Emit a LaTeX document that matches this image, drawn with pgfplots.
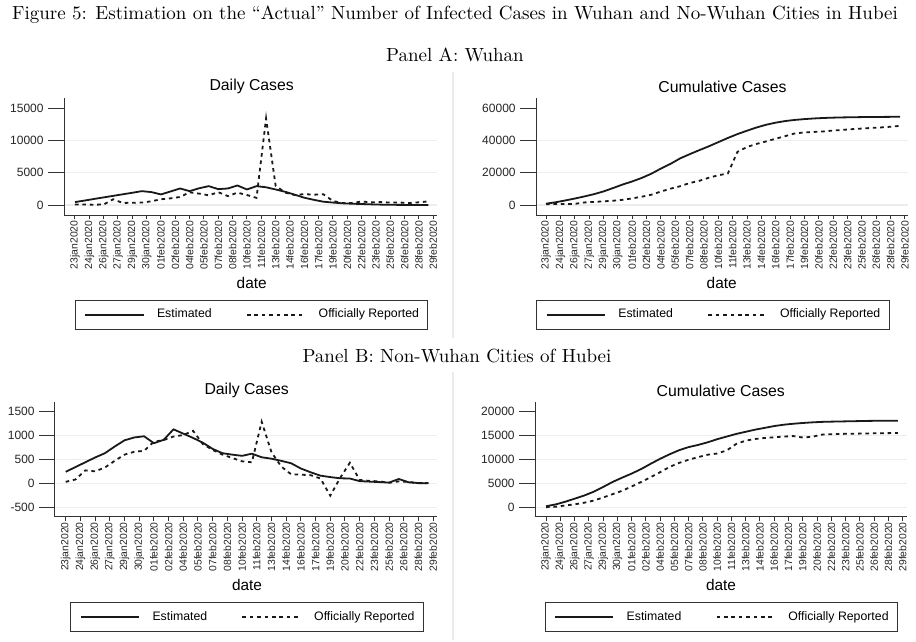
\documentclass[border=0pt]{standalone}
\usepackage{pgfplots}
\pgfplotsset{compat=1.18}
\usepackage{pgfplotstable}
\usepackage{fontspec}
\newfontfamily\arial{Liberation Sans}

% Panel A: Wuhan, daily
\pgfplotstableread{
d est off
0 450 70
1 690 77
2 940 46
3 1180 80
4 1420 892
5 1660 315
6 1900 356
7 2150 378
8 2000 576
9 1640 894
10 2100 1033
11 2565 1242
12 2150 1967
13 2600 1766
14 2925 1501
15 2460 1985
16 2565 1379
17 3030 1920
18 2410 1552
19 2925 1104
20 2750 13436
21 2410 2997
22 2050 1923
23 1600 1548
24 1130 1690
25 800 1600
26 510 1660
27 380 615
28 260 319
29 200 314
30 150 541
31 100 406
32 60 464
33 30 370
34 20 383
35 10 313
36 10 420
37 10 565
}\WD
% Panel A: Wuhan, cumulative
\pgfplotstableread{
d est off
0 800 495
1 1700 572
2 2800 618
3 4000 698
4 5300 1590
5 6700 1905
6 8400 2261
7 10500 2639
8 12700 3215
9 14600 4109
10 16800 5142
11 19400 6384
12 22600 8351
13 25500 10117
14 28900 11618
15 31500 13603
16 34000 14982
17 36400 16902
18 39000 18454
19 41600 19558
20 44000 32994
21 46100 35991
22 48100 37914
23 49800 39462
24 51100 41152
25 52100 42752
26 52800 44412
27 53300 45027
28 53700 45346
29 54000 45660
30 54200 46201
31 54350 46607
32 54450 47071
33 54550 47441
34 54600 47824
35 54650 48137
36 54700 48557
37 54750 49122
}\WC
% Panel B: Non-Wuhan cities, daily
\pgfplotstableread{
d est off
0 240 30
1 340 80
2 440 270
3 540 250
4 630 330
5 770 470
6 900 600
7 960 660
8 985 680
9 840 870
10 910 905
11 1130 980
12 1040 1010
13 950 1100
14 850 820
15 720 700
16 630 600
17 600 530
18 575 460
19 620 440
20 545 1290
21 515 650
22 470 350
23 420 190
24 310 180
25 230 170
26 160 100
27 130 -260
28 105 110
29 100 430
30 45 70
31 35 50
32 25 40
33 15 10
34 90 40
35 20 30
36 5 0
37 0 5
}\HD
% Panel B: Non-Wuhan cities, cumulative
\pgfplotstableread{
d est off
0 220 30
1 600 110
2 1150 380
3 1800 620
4 2450 950
5 3250 1400
6 4250 2050
7 5300 2750
8 6200 3450
9 7050 4350
10 8000 5300
11 9100 6300
12 10150 7350
13 11100 8450
14 11950 9300
15 12600 9950
16 13050 10500
17 13600 11000
18 14250 11250
19 14800 11900
20 15350 13250
21 15800 13950
22 16250 14300
23 16620 14500
24 17000 14650
25 17280 14800
26 17480 14900
27 17640 14600
28 17770 14750
29 17870 15200
30 17920 15300
31 17960 15350
32 18000 15400
33 18040 15420
34 18080 15460
35 18100 15500
36 18110 15520
37 18120 15540
}\HC

\pgfplotsset{
  panel/.style={
    scale only axis,
    axis x line*=bottom, axis y line*=left,
    axis line style={line width=0.5pt, color=black!80},
    tick align=outside,
    major tick length=2.2pt,
    scaled y ticks=false,
    xtick={0,1.5,3,4.5,6,7.5,9,10.5,12,13.5,15,16.5,18,19.5,21,22.5,24,25.5,27,28.5,30,31.5,33,34.5,36,37.5},
    xticklabels={23jan2020,24jan2020,26jan2020,27jan2020,29jan2020,30jan2020,01feb2020,02feb2020,04feb2020,05feb2020,07feb2020,08feb2020,10feb2020,11feb2020,13feb2020,14feb2020,16feb2020,17feb2020,19feb2020,20feb2020,22feb2020,23feb2020,25feb2020,26feb2020,28feb2020,29feb2020},
    xticklabel style={rotate=90, anchor=east, font=\arial\fontsize{5.2}{6}\selectfont, inner sep=0.4pt, text=black!85},
    yticklabel style={font=\arial\fontsize{6}{7}\selectfont, inner sep=2pt, xshift=-5.8pt, text=black!85},
    xtick style={line width=0.5pt, black!80},
    ytick style={/pgfplots/major tick length=8pt, line width=0.5pt, black!80},
    ymajorgrids, grid style={line width=0.6pt, color=black!7},
    extra y tick style={grid=none},
    legend columns=2,
    legend cell align=left,
    legend image code/.code={\draw[##1] (0pt,0pt) -- (29.2pt,0pt);},
    legend style={draw=black!80, line width=0.5pt, anchor=center,
      font=\arial\fontsize{6.15}{7}\selectfont,
      inner xsep=4.5pt, inner ysep=4.4pt,
      nodes={inner sep=0pt, text height=4.5pt, text depth=1.3pt},
      /tikz/every odd column/.append style={column sep=6.2pt},
      /tikz/every even column/.append style={column sep=17.2pt}},
  },
  est/.style={black!90, line width=0.9pt, no marks},
  off/.style={black!90, line width=0.9pt, no marks, dash pattern=on 1.8pt off 1.9pt},
}

\begin{document}
\begin{tikzpicture}
\path[use as bounding box] (0pt,0pt) rectangle (458pt,-321pt);
\fill[white] (0pt,0pt) rectangle (458pt,-321pt);

\draw[black!8, line width=0.6pt] (226.5pt,-36pt) -- (226.5pt,-169pt);
\draw[black!8, line width=0.6pt] (226.5pt,-186pt) -- (226.5pt,-320pt);

\node[font=\fontsize{9.5}{11}\selectfont] at (227.5pt,-7.5pt) {Figure 5: Estimation on the ``Actual'' Number of Infected Cases in Wuhan and No-Wuhan Cities in Hubei};
\node[font=\fontsize{9.5}{11}\selectfont] at (227.5pt,-27.5pt) {Panel A: Wuhan};
\node[font=\fontsize{9.5}{11}\selectfont] at (228.5pt,-178pt) {Panel B: Non-Wuhan Cities of Hubei};

% Panel A daily
\begin{axis}[panel, at={(32pt,-107.5pt)}, anchor=south west,
  width=186.5pt, height=58.35pt,
  xmin=-1.15, xmax=37.89, ymin=-1551, ymax=16553,
  ytick={0,5000,10000}, yticklabels={0,5000,10000},
  extra y ticks={15000}, extra y tick labels={15000},
  legend style={at={(0.5032,-0.8539)}}]
\addplot[est] table[x=d, y=est] {\WD};
\addlegendentry{Estimated}
\addplot[off] table[x=d, y=off] {\WD};
\addlegendentry{Officially Reported}
\end{axis}
\node[font=\arial\fontsize{7.9}{9}\selectfont] at (125.85pt,-43.35pt) {Daily Cases};
\node[font=\arial\fontsize{7.7}{9}\selectfont] at (125.85pt,-141.65pt) {date};

% Panel A cumulative
\begin{axis}[panel, at={(268pt,-107.5pt)}, anchor=south west,
  width=186.15pt, height=58.35pt,
  xmin=-1.045, xmax=37.85, ymin=-6205, ymax=66205,
  ytick={0,20000,40000}, yticklabels={0,20000,40000},
  extra y ticks={60000}, extra y tick labels={60000},
  legend style={at={(0.4754,-0.8539)}}]
\addplot[est] table[x=d, y=est] {\WC};
\addlegendentry{Estimated}
\addplot[off] table[x=d, y=off] {\WC};
\addlegendentry{Officially Reported}
\end{axis}
\node[font=\arial\fontsize{7.9}{9}\selectfont] at (361.25pt,-43.65pt) {Cumulative Cases};
\node[font=\arial\fontsize{7.7}{9}\selectfont] at (360.85pt,-141.65pt) {date};

% Panel B daily
\begin{axis}[panel, at={(27.5pt,-258.35pt)}, anchor=south west,
  width=190.85pt, height=57.5pt,
  xmin=-1.09, xmax=37.86, ymin=-700, ymax=1709,
  ytick={-500,0,500,1000}, yticklabels={-500,0,500,1000},
  extra y ticks={1500}, extra y tick labels={1500},
  legend style={at={(0.5035,-0.872)}}]
\addplot[est] table[x=d, y=est] {\HD};
\addlegendentry{Estimated}
\addplot[off] table[x=d, y=off] {\HD};
\addlegendentry{Officially Reported}
\end{axis}
\node[font=\arial\fontsize{7.9}{9}\selectfont] at (123.35pt,-195.35pt) {Daily Cases};
\node[font=\arial\fontsize{7.7}{9}\selectfont] at (123.5pt,-292.5pt) {date};

% Panel B cumulative
\begin{axis}[panel, at={(267.5pt,-258.35pt)}, anchor=south west,
  width=185.85pt, height=57.5pt,
  xmin=-1.16, xmax=37.93, ymin=-1967, ymax=22092,
  ytick={0,5000,10000,15000}, yticklabels={0,5000,10000,15000},
  extra y ticks={20000}, extra y tick labels={20000},
  legend style={at={(0.5013,-0.872)}}]
\addplot[est] table[x=d, y=est] {\HC};
\addlegendentry{Estimated}
\addplot[off] table[x=d, y=off] {\HC};
\addlegendentry{Officially Reported}
\end{axis}
\node[font=\arial\fontsize{7.9}{9}\selectfont] at (360.4pt,-195.35pt) {Cumulative Cases};
\node[font=\arial\fontsize{7.7}{9}\selectfont] at (360.5pt,-292.5pt) {date};
\end{tikzpicture}
\end{document}
